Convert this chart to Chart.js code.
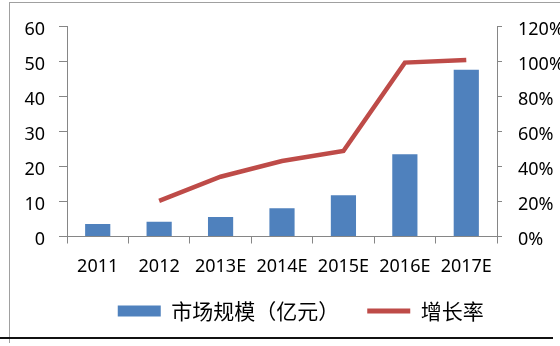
<!DOCTYPE html>
<html><head><meta charset="utf-8">
<script src="https://cdn.jsdelivr.net/npm/chart.js@4"></script>
<style>
html,body{margin:0;padding:0;background:#fff;}
#wrap{position:relative;width:560px;height:346px;overflow:hidden;background:#fff;}
#frame{position:absolute;left:9px;top:2px;width:560px;height:340px;border-top:1px solid #a0a0a0;border-left:1px solid #a0a0a0;}
#base{position:absolute;left:0;top:337px;width:553px;height:2px;background:#111;}
canvas{position:absolute;left:0;top:0;}
</style></head>
<body><div id="wrap"><div id="frame"></div><div id="base"></div><canvas id="c" width="560" height="346"></canvas></div>
<script>
const categories = ['2011', '2012', '2013E', '2014E', '2015E', '2016E', '2017E'];
const marketSize = [3.6, 4.2, 5.6, 8.1, 11.8, 23.5, 47.7];
const growthRate = [null, 20.4, 34.2, 43.2, 48.9, 99.5, 101];
const seriesNames = ['市场规模（亿元）', '增长率'];
const leftTicks = [0, 10, 20, 30, 40, 50, 60];
const rightTicks = [0, 20, 40, 60, 80, 100, 120];

const BLUE = '#4F81BD';
const RED = '#BE4B48';
const AXIS = '#868686';

const legendFit = {
  id: 'legendFit',
  beforeLayout(chart) {
    const l = chart.legend;
    if (l && !l._patched) {
      const f = l.fit;
      l.fit = function () { f.call(this); this.height = 63; };
      l._patched = true;
    }
  },
  afterLayout(chart) {
    const l = chart.legend;
    if (l) { l.left += 20.75; l.right += 20.75; }
  }
};

new Chart(document.getElementById('c'), {
  type: 'bar',
  data: {
    labels: categories,
    datasets: [
      {
        type: 'bar',
        label: seriesNames[0],
        data: marketSize,
        backgroundColor: BLUE,
        borderWidth: 0,
        categoryPercentage: 1,
        barPercentage: 0.41,
        yAxisID: 'y'
      },
      {
        type: 'line',
        label: seriesNames[1],
        data: growthRate,
        borderColor: RED,
        backgroundColor: RED,
        borderWidth: 4.5,
        pointRadius: 0,
        tension: 0,
        spanGaps: false,
        yAxisID: 'y1'
      }
    ]
  },
  options: {
    responsive: false,
    animation: false,
    layout: { padding: { left: 0, right: 0, top: 26, bottom: 0 } },
    plugins: {
      tooltip: { enabled: false },
      legend: {
        position: 'bottom',
        labels: {
          usePointStyle: true,
          pointStyleWidth: 43,
          boxHeight: 11,
          padding: 17.5,
          color: '#000',
          font: { family: '"Noto Sans CJK SC", "Noto Sans", sans-serif', size: 21 },
          generateLabels(chart) {
            const items = Chart.defaults.plugins.legend.labels.generateLabels(chart);
            items.forEach(it => {
              if (it.datasetIndex === 0) {
                it.pointStyle = 'rect';
                it.text = seriesNames[0] + '\u3000';
                it.lineWidth = 0;
                it.fillStyle = BLUE;
              } else {
                it.pointStyle = 'line';
                it.lineWidth = 5;
                it.strokeStyle = RED;
              }
            });
            return items;
          }
        }
      }
    },
    scales: {
      x: {
        grid: { display: true, drawOnChartArea: false, drawTicks: true, tickLength: 7, color: AXIS, offset: true },
        border: { display: true, color: AXIS, width: 1 },
        ticks: { color: '#000', padding: 13, maxRotation: 0, font: { family: '"Noto Sans", sans-serif', size: 18 } },
        afterFit(s) { s.height = 46.5; }
      },
      y: {
        position: 'left',
        min: 0, max: 60,
        afterBuildTicks(s) { s.ticks = leftTicks.map(v => ({ value: v })); },
        grid: { drawOnChartArea: false, drawTicks: true, tickLength: 8, color: AXIS },
        border: { display: true, color: AXIS, width: 1 },
        ticks: { color: '#000', padding: 14, labelOffset: 3, font: { family: '"Noto Sans", sans-serif', size: 18 } },
        afterFit(s) { s.width = 67; }
      },
      y1: {
        position: 'right',
        min: 0, max: 120,
        afterBuildTicks(s) { s.ticks = rightTicks.map(v => ({ value: v })); },
        grid: { drawOnChartArea: false, drawTicks: true, tickLength: 5, color: AXIS },
        border: { display: true, color: AXIS, width: 1 },
        ticks: { color: '#000', padding: 16, labelOffset: 3, callback: v => v + '%', font: { family: '"Noto Sans", sans-serif', size: 18 } },
        afterFit(s) { s.width = 63; }
      }
    }
  },
  plugins: [legendFit]
});
</script>
</body></html>
